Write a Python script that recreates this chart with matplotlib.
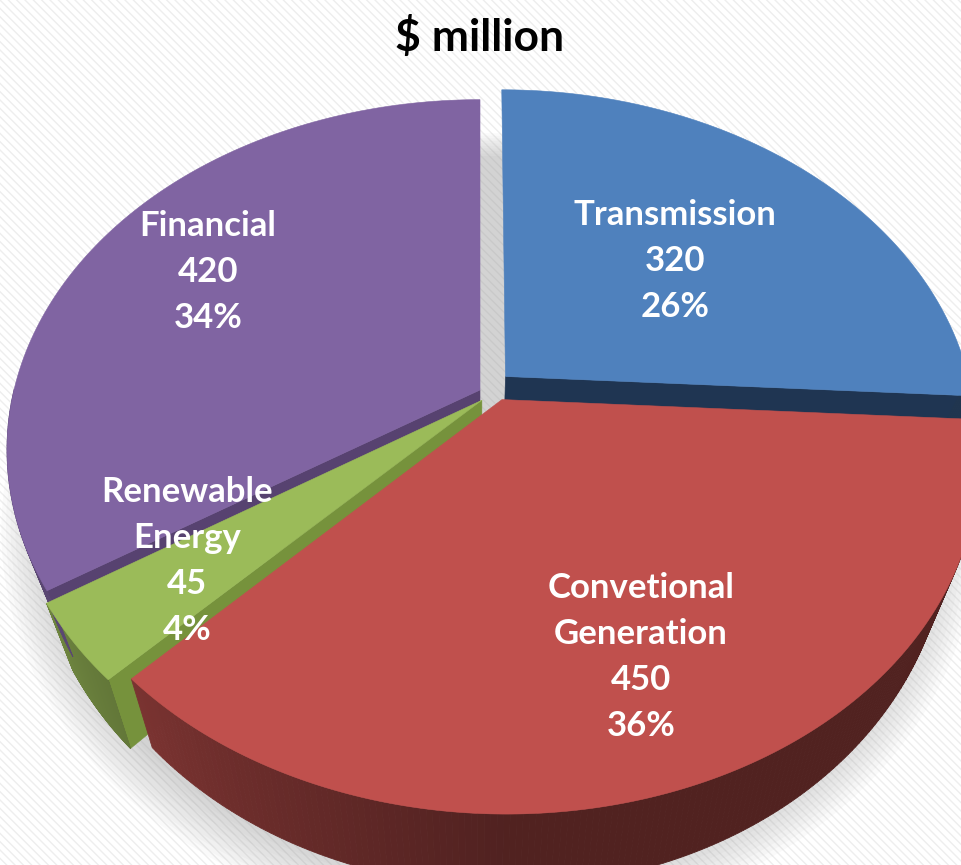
import numpy as np
import matplotlib
matplotlib.use('Agg')
import matplotlib.pyplot as plt
from matplotlib.patches import Polygon, Rectangle
from matplotlib.colors import to_rgb

# data
labels = ['Transmission', 'Convetional\nGeneration', 'Renewable\nEnergy', 'Financial']
values = [320, 450, 45, 420]
colors = ['#4F81BD', '#C0504D', '#9BBB59', '#8064A2']
side_colors = ['#1F3552', '#5A2120', '#76923C', '#574270']
title = '$ million'

# how far each slice is pulled out (in pie radii, x / depth)
offsets = [(0.055, 0.04), (0.047, -0.028), (0.004, -0.03), (0.0, 0.0)]

# label anchors (first line centre, pixels)
label_xy = [(675, 215), (641, 588), (187, 492), (208, 226)]

# fake 3d view
CX, CY = 480, 390
R, RY = 466, 340
K = 0.171
DEPTH = 60
SHRINK = 0.06


def proj(u, v, z=0.0):
    u = np.asarray(u, float)
    v = np.asarray(v, float)
    p = 1.0 / (1.0 + K * v)
    q = 1.0 - SHRINK * z
    return np.column_stack([CX + R * u * p * q, CY - RY * v * p + z * DEPTH * p])


def shade(c, m):
    r, g, b = to_rgb(c)
    return (r * m, g * m, b * m)


fig = plt.figure(figsize=(9.61, 8.65), dpi=100)
fig.patch.set_facecolor('white')
ax = fig.add_axes([0, 0, 1, 1])
ax.set_xlim(0, 961)
ax.set_ylim(865, 0)
ax.axis('off')

# striped background
ax.add_patch(Rectangle((0, 0), 961, 865, facecolor='white', edgecolor='#eeeeee',
                       hatch='\\\\\\\\', lw=0, zorder=0))

# soft shadow
tt = np.linspace(0, 2 * np.pi, 300)
for k in range(10):
    s = 1.0 + 0.01 * k
    pts = proj(0.02 + s * np.cos(tt), s * np.sin(tt) - 0.02, 1.0)
    ax.add_patch(Polygon(pts, closed=True, facecolor='#888888', alpha=0.04,
                         lw=0, zorder=1))

total = float(sum(values))
starts, ends = [], []
cum = 0.0
for v in values:
    a0 = 90 - cum / total * 360
    a1 = a0 - v / total * 360
    starts.append(a0)
    ends.append(a1)
    cum += v

radial, outer, tops = [], [], []
for i in range(len(values)):
    a0, a1 = np.radians(starts[i]), np.radians(ends[i])
    ox, oy = offsets[i]
    ts = np.linspace(a0, a1, 200)
    # top face
    uu = np.concatenate([[ox], ox + np.cos(ts)])
    vv = np.concatenate([[oy], oy + np.sin(ts)])
    tops.append(Polygon(proj(uu, vv, 0), closed=True, facecolor=colors[i],
                        edgecolor=colors[i], lw=0.4, zorder=4))
    # radial walls
    for a, vis in ((a0, np.cos(a0) < -1e-6), (a1, np.cos(a1) > 1e-6)):
        if not vis:
            continue
        eu = [ox, ox + np.cos(a), ox + np.cos(a), ox]
        ev = [oy, oy + np.sin(a), oy + np.sin(a), oy]
        ez = [0, 0, 1, 1]
        pts = np.vstack([proj(eu[j], ev[j], ez[j]) for j in range(4)])
        depth_key = oy + 0.5 * np.sin(a)
        radial.append((depth_key, Polygon(pts, closed=True, facecolor=side_colors[i],
                                          edgecolor=side_colors[i], lw=0.4, zorder=2)))
    # outer curved wall, front half only
    for j in range(len(ts) - 1):
        tm = 0.5 * (ts[j] + ts[j + 1])
        if np.sin(tm) > 0:
            continue
        deg = np.degrees(tm)
        if deg > 0:
            deg -= 360
        m = 0.42 + 0.22 * np.clip((-deg - 90) / 45, 0, 1.3)
        seg_u = ox + np.cos([ts[j], ts[j + 1]])
        seg_v = oy + np.sin([ts[j], ts[j + 1]])
        topp = proj(seg_u, seg_v, 0)
        botp = proj(seg_u, seg_v, 1)
        pts = np.vstack([topp, botp[::-1]])
        c = shade(colors[i], m)
        outer.append(Polygon(pts, closed=True, facecolor=c, edgecolor=c,
                             lw=0.6, zorder=3))

# back walls first
radial.sort(key=lambda t: -t[0])
for _, p in radial:
    ax.add_patch(p)
for p in outer + tops:
    ax.add_patch(p)

FONT = ['Lato', 'DejaVu Sans']
PITCH = 46
for i in range(len(values)):
    pct = '%d%%' % round(values[i] / total * 100)
    lines = labels[i].split('\n') + [str(values[i]), pct]
    x0, y0 = label_xy[i]
    for k, line in enumerate(lines):
        ax.text(x0, y0 + k * PITCH, line, color='white', fontsize=25,
                fontweight='bold', family=FONT, ha='center', va='center', zorder=6)

ax.text(480, 37, title, color='black', fontsize=32, fontweight='bold',
        family=FONT, ha='center', va='center', zorder=6)

fig.savefig('out.png', dpi=100)
